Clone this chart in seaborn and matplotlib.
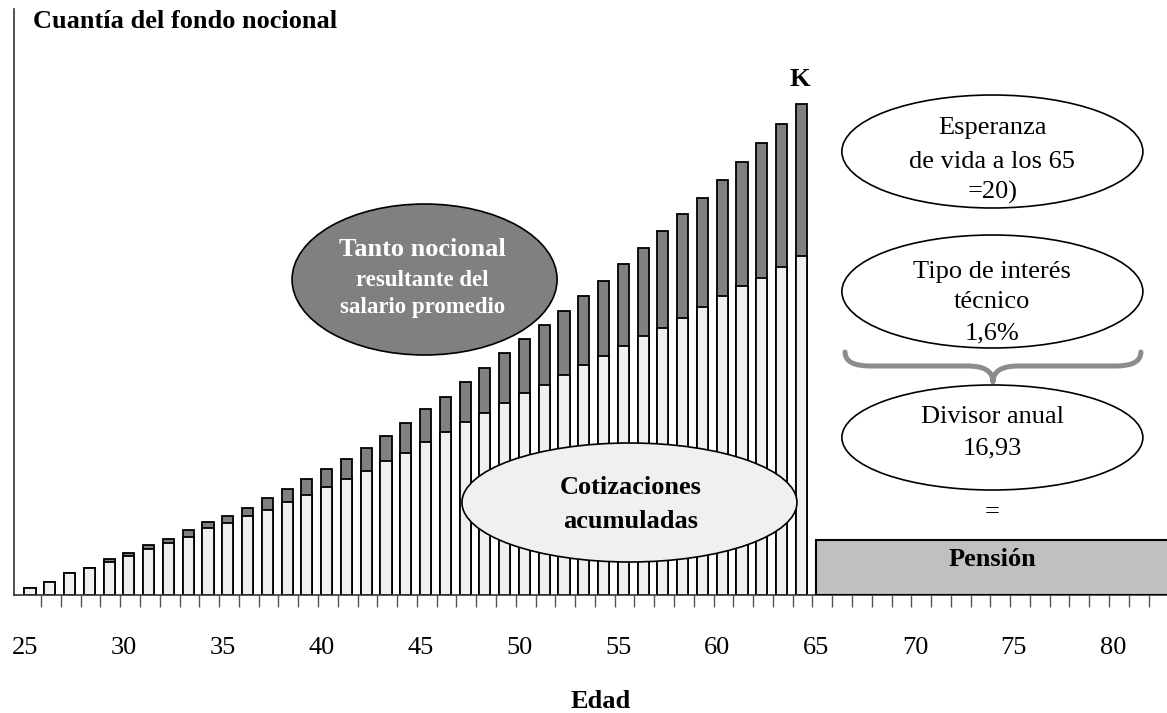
import numpy as np
import pandas as pd
from matplotlib import pyplot as plt
from matplotlib.patches import Ellipse, Rectangle, PathPatch
from matplotlib.path import Path
import seaborn as sns

# edad de cotizacion (25..64) y cuantia del fondo (unidades arbitrarias)
edad = list(range(25, 65))
cotizaciones = [7, 13, 22, 27, 33, 39, 46, 52, 58, 67, 72, 79, 85, 93, 100,
                108, 116, 124, 134, 142, 153, 163, 173, 182, 192, 202, 210,
                220, 230, 239, 249, 259, 267, 277, 288, 299, 309, 317, 328,
                339]
intereses = [0, 0, 0, 0, 3, 3, 4, 4, 7, 6, 7, 8, 12, 13, 16, 18, 20, 23, 25,
             30, 33, 35, 40, 45, 50, 54, 60, 64, 69, 75, 82, 88, 97, 104, 109,
             116, 124, 135, 143, 152]
pension = 55
edad_ticks = list(range(25, 85, 5))

if __name__ == '__main__':
    df = pd.DataFrame({'edad': edad, 'cotizaciones': cotizaciones,
                       'intereses': intereses})
    df['total'] = df['cotizaciones'] + df['intereses']
    df['pos'] = df['edad'] + 0.25

    sns.set_style('white')
    plt.rcParams['font.family'] = ['Liberation Serif', 'DejaVu Serif']
    plt.rcParams['text.color'] = 'black'
    plt.rcParams['axes.labelcolor'] = 'black'
    plt.rcParams['xtick.color'] = 'black'

    fig = plt.figure(figsize=(11.67, 7.13), dpi=100)
    ax = fig.add_axes([14 / 1167, 118 / 713, 1153 / 1167, 586 / 713])

    bar_kw = dict(x='pos', native_scale=True, width=0.56, errorbar=None,
                  edgecolor='black', linewidth=1.3, ax=ax)
    sns.barplot(data=df, y='total', color='#808080', saturation=1, **bar_kw)
    sns.barplot(data=df, y='cotizaciones', color='#f0f0f0', saturation=1,
                **bar_kw)

    # pension a partir de los 65
    ax.add_patch(Rectangle((65, 0), 20, pension, facecolor='#c0c0c0',
                           edgecolor='black', linewidth=1.5, zorder=3))
    ax.text(73.9, 35, 'Pensión', ha='center', va='center',
            fontsize=19, fontweight='bold', zorder=4)

    ax.set_xlim(24.44, 82.74)
    ax.set_ylim(0, 586)

    # elipses
    ax.add_patch(Ellipse((45.2, 315.5), 13.4, 151, facecolor='#808080',
                         edgecolor='black', linewidth=1.2, zorder=5))
    ax.text(45.1, 345, 'Tanto nocional', ha='center', va='center',
            fontsize=19, fontweight='bold', color='white', zorder=6)
    ax.text(45.1, 314, 'resultante del', ha='center', va='center',
            fontsize=16.5, fontweight='bold', color='white', zorder=6)
    ax.text(45.1, 287, 'salario promedio', ha='center', va='center',
            fontsize=16.5, fontweight='bold', color='white', zorder=6)

    ax.add_patch(Ellipse((55.56, 92.5), 16.94, 119, facecolor='#f0f0f0',
                         edgecolor='black', linewidth=1.2, zorder=5))
    ax.text(55.6, 107, 'Cotizaciones', ha='center', va='center',
            fontsize=19, fontweight='bold', zorder=6)
    ax.text(55.6, 74, 'acumuladas', ha='center', va='center',
            fontsize=19, fontweight='bold', zorder=6)

    cx = 73.91
    cajas = [(443.5, 113, ['Esperanza', 'de vida a los 65', '=20)'],
              [467, 433, 403]),
             (303.5, 113, ['Tipo de interés', 'técnico', '1,6%'],
              [323, 293, 262]),
             (157.5, 105, ['Divisor anual', '16,93'], [178, 147])]
    for cy, h, lineas, ys in cajas:
        ax.add_patch(Ellipse((cx, cy), 15.22, h, facecolor='white',
                             edgecolor='black', linewidth=1.2, zorder=5))
        for txt, y in zip(lineas, ys):
            ax.text(cx, y, txt, ha='center', va='center', fontsize=19,
                    zorder=6)
    ax.text(cx, 83, '=', ha='center', va='center', fontsize=19)
    ax.text(64.18, 515, 'K', ha='center', va='center', fontsize=19,
            fontweight='bold')

    # llave
    verts = [(66.46, 243), (66.46, 229), (67.72, 229), (72.67, 229),
             (73.94, 229), (73.94, 213), (73.94, 229), (75.20, 229),
             (80.16, 229), (81.42, 229), (81.42, 243)]
    codes = [Path.MOVETO, Path.CURVE3, Path.CURVE3, Path.LINETO,
             Path.CURVE3, Path.CURVE3, Path.CURVE3, Path.CURVE3,
             Path.LINETO, Path.CURVE3, Path.CURVE3]
    ax.add_patch(PathPatch(Path(verts, codes), facecolor='none',
                           edgecolor='#8c8c8c', linewidth=3.6,
                           capstyle='round', joinstyle='round'))

    # ejes
    sns.despine(ax=ax)
    for s in ['left', 'bottom']:
        ax.spines[s].set_color('#333333')
        ax.spines[s].set_linewidth(1.2)
    ax.set_yticks([])
    ax.set_xticks(edad_ticks)
    ax.set_xticklabels([str(t) for t in edad_ticks], fontsize=19)
    ax.set_xticks(np.arange(25, 82) + 0.81, minor=True)
    ax.tick_params(axis='x', which='major', bottom=True, length=0, pad=30)
    ax.tick_params(axis='x', which='minor', bottom=True, length=8.6,
                   width=1, color='#555555', direction='out')
    ax.set_ylabel('')
    ax.set_xlabel('Edad', fontsize=19, fontweight='bold')
    ax.xaxis.set_label_coords((601 - 14) / 1153, -(701 - 595) / 586)
    ax.xaxis.label.set_va('center')

    ax.text((33 - 14) / 1153, (595 - 28) / 586, 'Cuantía del fondo nocional',
            transform=ax.transAxes, ha='left', va='baseline', fontsize=19,
            fontweight='bold')

    fig.savefig('out.png', dpi=100)
